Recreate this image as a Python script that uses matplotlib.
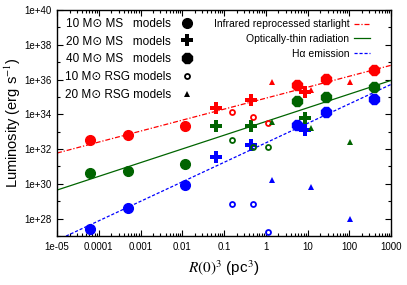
import numpy as np
import matplotlib
matplotlib.use("Agg")
import matplotlib.pyplot as plt
from matplotlib.ticker import FixedLocator, FuncFormatter, LogLocator, NullFormatter
from matplotlib.lines import Line2D

plt.rcParams['font.family'] = ['Liberation Sans', 'DejaVu Sans']
plt.rcParams['mathtext.fontset'] = 'stix'

# R(0)^3 (pc^3) per model set, log10 luminosity (erg/s) per tracer
x_ms10 = [6.3e-5, 5.0e-4, 0.0117]
ir_ms10 = [32.53, 32.82, 33.30]
thin_ms10 = [30.65, 30.75, 31.14]
ha_ms10 = [27.38, 28.60, 29.94]

x_ms20 = [0.063, 0.44, 8.6]
ir_ms20 = [34.35, 34.80, 35.28]
thin_ms20 = [33.31, 33.35, 33.80]
ha_ms20 = [31.56, 32.24, 33.10]

x_ms40 = [5.5, 27.5, 390.0]
ir_ms40 = [35.66, 36.05, 36.57]
thin_ms40 = [34.74, 34.99, 35.57]
ha_ms40 = [33.41, 34.16, 34.86]

x_rsg10 = [0.155, 0.5, 1.1]
ir_rsg10 = [34.12, 33.83, 33.49]
thin_rsg10 = [32.53, 32.10, 32.14]
ha_rsg10 = [28.86, 28.86, 27.23]

x_rsg20 = [1.4, 12.0, 102.0]
ir_rsg20 = [35.86, 35.38, 35.86]
thin_rsg20 = [33.58, 33.20, 32.39]
ha_rsg20 = [30.23, 29.84, 28.00]

# fitted lines: end points (x, log10 L)
fit_x = [1e-5, 1000.0]
fit_ir = [31.77, 36.82]
fit_thin = [29.64, 35.95]
fit_ha = [26.75, 35.72]

red = '#ff0000'
green = '#006400'
blue = '#0000ff'

fig = plt.figure(figsize=(4.07, 2.85), dpi=100)
ax = fig.add_axes([0.140, 0.172, 0.821, 0.793])

ax.plot(fit_x, 10**np.array(fit_ir), color=red, lw=0.9, ls=(0, (4, 1.5, 1, 1.5)))
ax.plot(fit_x, 10**np.array(fit_thin), color=green, lw=0.9, ls='-')
ax.plot(fit_x, 10**np.array(fit_ha), color=blue, lw=0.9, ls=(0, (2.5, 1.5)))

st_ms10 = dict(marker='o', ms=7)
st_ms20 = dict(marker='P', ms=8, mew=0)
st_ms40 = dict(marker='8', ms=8)
st_rsg10 = dict(marker='o', ms=3.6, mfc='none', mew=1.3)
st_rsg20 = dict(marker='^', ms=4.0, mew=0)

sets = [
    (x_ms10, [ir_ms10, thin_ms10, ha_ms10], st_ms10),
    (x_ms20, [ir_ms20, thin_ms20, ha_ms20], st_ms20),
    (x_ms40, [ir_ms40, thin_ms40, ha_ms40], st_ms40),
    (x_rsg10, [ir_rsg10, thin_rsg10, ha_rsg10], st_rsg10),
    (x_rsg20, [ir_rsg20, thin_rsg20, ha_rsg20], st_rsg20),
]
for xs, ys, st in sets:
    for y, c in zip(ys, [red, green, blue]):
        kw = dict(st)
        kw.setdefault('mfc', c)
        ax.plot(xs, 10**np.array(y), ls='none', color=c, mec=c, **kw)

ax.set_xscale('log')
ax.set_yscale('log')
ax.set_xlim(1e-5, 1000)
ax.set_ylim(1e27, 1e40)

xt = [1e-5, 1e-4, 1e-3, 1e-2, 1e-1, 1, 10, 100, 1000]
xl = ['1e-05', '0.0001', '0.001', '0.01', '0.1', '1', '10', '100', '1000']
ax.xaxis.set_major_locator(FixedLocator(xt))
ax.set_xticklabels(xl)
ax.xaxis.set_minor_locator(LogLocator(base=10, subs=np.arange(2, 10), numticks=20))
ax.xaxis.set_minor_formatter(NullFormatter())

yt = [10.0**k for k in range(28, 41, 2)]
ax.yaxis.set_major_locator(FixedLocator(yt))
ax.yaxis.set_major_formatter(FuncFormatter(lambda v, p: '1e+%d' % int(round(np.log10(v)))))
ax.yaxis.set_minor_locator(FixedLocator([10.0**k for k in range(27, 40, 2)]))
ax.yaxis.set_minor_formatter(NullFormatter())

ax.tick_params(which='both', direction='in', top=True, right=True, labelsize=7, width=0.8)
ax.tick_params(which='major', length=4, pad=4)
ax.tick_params(which='minor', length=2)
for s in ax.spines.values():
    s.set_linewidth(1.0)

ax.set_ylabel('Luminosity (erg s$^{-1}$)', fontsize=10.5, labelpad=1)
ax.set_xlabel(r'$R(0)^3$ (pc$^3$)', fontsize=11, labelpad=5)

h1 = [Line2D([], [], ls='none', color='k', **{k: v for k, v in st.items() if k != 'mfc'},
             mfc='none' if st.get('mfc') == 'none' else 'k')
      for st in [st_ms10, st_ms20, st_ms40, st_rsg10, st_rsg20]]
l1 = ['10 M\u2299 MS   models', '20 M\u2299 MS   models', '40 M\u2299 MS   models',
      '10 M\u2299 RSG models', '20 M\u2299 RSG models']
leg1 = ax.legend(h1, l1, loc='upper left', bbox_to_anchor=(0.0, 1.0), frameon=False,
                 markerfirst=False, fontsize=8.5, handlelength=1.0, handletextpad=0.9,
                 labelspacing=0.5, borderaxespad=0.25)
ax.add_artist(leg1)

h2 = [
    Line2D([], [], color=red, lw=0.9, ls=(0, (4, 1.5, 1, 1.5))),
    Line2D([], [], color=green, lw=0.9),
    Line2D([], [], color=blue, lw=0.9, ls=(0, (2.5, 1.5))),
]
l2 = ['Infrared reprocessed starlight', 'Optically-thin radiation', 'H\u03b1 emission']
ax.legend(h2, l2, loc='upper right', bbox_to_anchor=(0.965, 1.0), frameon=False,
          markerfirst=False, fontsize=7.5, handlelength=1.5, handletextpad=0.5,
          labelspacing=0.45, borderaxespad=0.5)

fig.savefig('out.png', dpi=100)
